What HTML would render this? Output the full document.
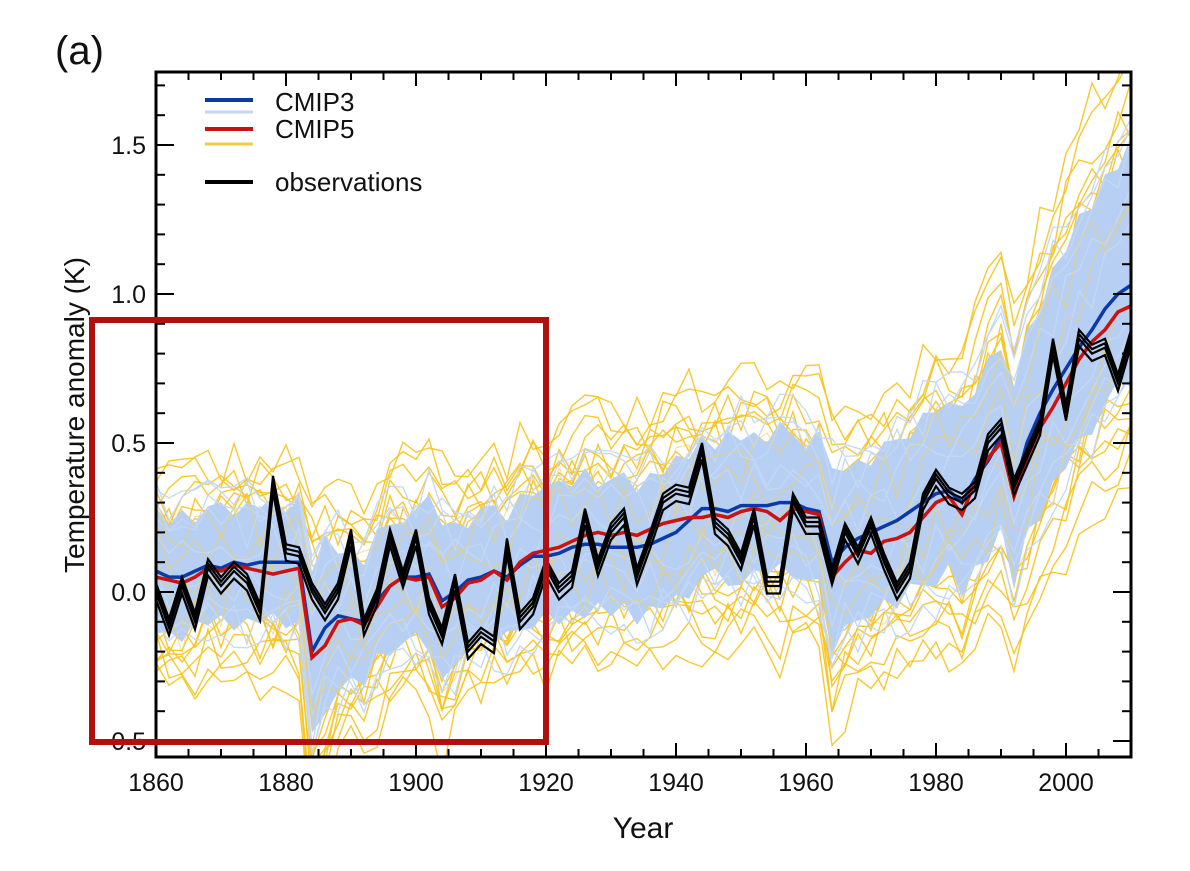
<!DOCTYPE html>
<html><head><meta charset="utf-8"><style>
body{margin:0;background:#fff;}
svg text{font-family:"Liberation Sans",sans-serif;fill:#111;}
</style></head><body>
<svg id="chart" width="1190" height="866" viewBox="0 0 1190 866" xmlns="http://www.w3.org/2000/svg">
<text x="55" y="64" font-size="40">(a)</text>
<g id="plot"></g>
<g id="axes"></g>
<text x="643" y="838" font-size="30" text-anchor="middle">Year</text>
<text transform="translate(84,415) rotate(-90)" font-size="28" text-anchor="middle">Temperature anomaly (K)</text>
<g>
<line x1="205" y1="100" x2="253" y2="100" stroke="#0a3aa8" stroke-width="4"/>
<line x1="205" y1="112" x2="253" y2="112" stroke="#c4d6f2" stroke-width="3"/>
<text x="275" y="111" font-size="26">CMIP3</text>
<line x1="205" y1="129" x2="253" y2="129" stroke="#cc1111" stroke-width="4"/>
<line x1="205" y1="144" x2="253" y2="144" stroke="#f5c842" stroke-width="3"/>
<text x="275" y="138" font-size="26">CMIP5</text>
<line x1="205" y1="182" x2="253" y2="182" stroke="#000" stroke-width="4"/>
<text x="275" y="191" font-size="26">observations</text>
</g>
<rect x="92" y="320" width="454" height="422" fill="none" stroke="#b01010" stroke-width="6"/>
</svg>
<script>
const years=[];for(let y=1860;y<=2010;y+=2)years.push(y);
const cmip5Mean=[0.05,0.04,0.03,0.05,0.08,0.07,0.09,0.08,0.07,0.06,0.07,0.08,-0.22,-0.18,-0.10,-0.09,-0.11,-0.05,0.02,0.05,0.04,0.05,-0.05,-0.02,0.03,0.04,0.07,0.04,0.10,0.13,0.14,0.15,0.17,0.19,0.20,0.19,0.20,0.19,0.21,0.23,0.24,0.25,0.25,0.26,0.25,0.27,0.28,0.27,0.24,0.28,0.27,0.26,0.05,0.10,0.14,0.13,0.17,0.18,0.20,0.25,0.30,0.32,0.26,0.37,0.45,0.50,0.32,0.45,0.55,0.62,0.70,0.78,0.84,0.88,0.94,0.96];
const cmip3Mean=[0.07,0.05,0.05,0.07,0.09,0.08,0.10,0.09,0.10,0.10,0.10,0.10,-0.20,-0.12,-0.08,-0.09,-0.10,-0.03,0.02,0.05,0.05,0.06,-0.03,0.00,0.04,0.05,0.07,0.05,0.09,0.12,0.12,0.13,0.15,0.16,0.16,0.15,0.15,0.15,0.16,0.18,0.20,0.24,0.28,0.28,0.27,0.29,0.29,0.29,0.30,0.30,0.28,0.27,0.10,0.15,0.18,0.20,0.22,0.24,0.27,0.30,0.33,0.34,0.30,0.38,0.44,0.52,0.34,0.50,0.60,0.68,0.75,0.82,0.88,0.95,1.00,1.03];
const observations=[0.00,-0.12,0.02,-0.10,0.08,0.02,0.07,0.03,-0.07,0.36,0.13,0.12,0.00,-0.07,0.00,0.18,-0.12,-0.02,0.18,0.04,0.18,-0.05,-0.15,0.03,-0.20,-0.15,-0.18,0.15,-0.10,-0.05,0.08,0.00,0.04,0.25,0.08,0.20,0.25,0.05,0.17,0.30,0.33,0.32,0.47,0.22,0.18,0.10,0.25,0.02,0.02,0.30,0.22,0.22,0.05,0.20,0.12,0.22,0.10,0.00,0.07,0.30,0.38,0.32,0.30,0.34,0.50,0.55,0.35,0.45,0.55,0.82,0.60,0.85,0.80,0.82,0.70,0.85];
const spread=[0.19,0.19,0.19,0.19,0.19,0.19,0.19,0.19,0.19,0.19,0.19,0.2,0.3,0.27,0.22,0.21,0.21,0.21,0.21,0.21,0.21,0.23,0.27,0.23,0.21,0.21,0.21,0.21,0.21,0.21,0.22,0.22,0.22,0.22,0.22,0.22,0.22,0.22,0.22,0.22,0.23,0.23,0.23,0.23,0.23,0.23,0.23,0.23,0.24,0.23,0.23,0.25,0.28,0.27,0.26,0.26,0.26,0.26,0.27,0.27,0.28,0.28,0.3,0.3,0.31,0.32,0.34,0.35,0.37,0.39,0.4,0.42,0.43,0.44,0.45,0.46];
const wiggle=[0.06,-0.04,0.09,-0.07,0.02,0.08,-0.09,0.05,-0.02,0.07,-0.06,0.03,-0.08,0.10,-0.03,0.04,-0.05,0.08,-0.01,-0.07,0.05,0.09,-0.04,0.01,-0.09,0.06,0.03,-0.06,0.08,-0.02,0.04];
const obsOffsets=[0,0.03,-0.025,0.015];
const memberFactors=[-1.7,-1.5,-1.35,-1.2,-1.05,-0.9,-0.75,-0.6,-0.45,-0.3,0.0,0.3,0.45,0.6,0.75,0.9,1.05,1.2,1.35,1.5,1.7,-1.9,1.85,1.1,-1.1];
const cmip3Factors=[-1.1,-0.9,-0.6,-0.3,0.3,0.6,0.9,1.1,1.25,-1.25];
const xTicks=[1860,1880,1900,1920,1940,1960,1980,2000];
const yTicks=[-0.5,0.0,0.5,1.0,1.5];

const L=156,R=1131,T=72,B=757;
const xs=y=>L+(y-1860)*(R-L)/150;
const ys=v=>592-v*298;
const NS='http://www.w3.org/2000/svg';
const plot=document.getElementById('plot'),axes=document.getElementById('axes');
function mk(tag,attrs,parent){const e=document.createElementNS(NS,tag);for(const k in attrs)e.setAttribute(k,attrs[k]);parent.appendChild(e);return e;}
const clip=mk('clipPath',{id:'cp'},mk('defs',{},plot));mk('rect',{x:L,y:T,width:R-L,height:B-T},clip);
const g=mk('g',{'clip-path':'url(#cp)'},plot);
function pts(f){return years.map((y,i)=>xs(y).toFixed(1)+','+ys(f(i)).toFixed(1)).join(' ');}
const sp=(m,i)=>m<0?m*Math.min(spread[i],0.3):m*spread[i];
memberFactors.forEach((m,k)=>{
  const p=mk('polyline',{points:pts(i=>cmip5Mean[i]+sp(m,i)+0.8*wiggle[(i*(k%7+2)+k)%wiggle.length]),fill:'none',stroke:'#f7c21a','stroke-width':1.4,'stroke-opacity':0.9},g);
  
  
});
const up=years.map((y,i)=>xs(y).toFixed(1)+','+ys(cmip3Mean[i]+spread[i]+wiggle[i%wiggle.length]*0.4).toFixed(1));
const lo=years.map((y,i)=>xs(y).toFixed(1)+','+ys(cmip3Mean[i]-Math.min(spread[i],0.32)-wiggle[(i+7)%wiggle.length]*0.4).toFixed(1)).reverse();
const band=mk('polygon',{points:up.concat(lo).join(' '),fill:'#b7cff2'},g);


cmip3Factors.forEach((m,k)=>{
  const p=mk('polyline',{points:pts(i=>cmip3Mean[i]+sp(m,i)+0.8*wiggle[(i*(k%5+2)+5)%wiggle.length]),fill:'none',stroke:'#c4d8f4','stroke-width':1.3},g);
  
  
});
[-0.8,0.8,-0.5,0.5,-0.2].forEach((m,k)=>{
  const p=mk('polyline',{points:pts(i=>cmip5Mean[i]+sp(m,i)+wiggle[(i*(k+5)+2)%wiggle.length]),fill:'none',stroke:'#f2cf5a','stroke-width':1.2,'stroke-opacity':0.6},g);
  
  
});
const b3=mk('polyline',{points:pts(i=>cmip3Mean[i]),fill:'none',stroke:'#0a3aa8','stroke-width':3.5},g);


const r5=mk('polyline',{points:pts(i=>cmip5Mean[i]),fill:'none',stroke:'#cc1111','stroke-width':3.5},g);


obsOffsets.forEach((o,k)=>{
  const p=mk('polyline',{points:pts(i=>observations[i]+o),fill:'none',stroke:'#000','stroke-width':2.2},g);
  
  
});
const fr=mk('rect',{x:L,y:T,width:R-L,height:B-T,fill:'none',stroke:'#000','stroke-width':3},axes);


for(let y=1860;y<=2010;y+=5){
  const len=(y%20===0)?14:8;
  mk('line',{x1:xs(y),y1:B,x2:xs(y),y2:B-len,stroke:'#000','stroke-width':2},axes);
  mk('line',{x1:xs(y),y1:T,x2:xs(y),y2:T+len,stroke:'#000','stroke-width':2},axes);
}
for(let v=-0.5;v<=1.71;v+=0.1){
  const vv=Math.round(v*10)/10;const len=(Math.abs(vv*2-Math.round(vv*2))<1e-6)?18:9;
  mk('line',{x1:L,y1:ys(vv),x2:L+len,y2:ys(vv),stroke:'#000','stroke-width':2},axes);
  mk('line',{x1:R,y1:ys(vv),x2:R-len,y2:ys(vv),stroke:'#000','stroke-width':2},axes);
}
xTicks.forEach(t=>{
  const e=mk('text',{x:xs(t),y:791,'font-size':25,'text-anchor':'middle'},axes);e.textContent=t;
  
  
});
yTicks.forEach(t=>{
  const e=mk('text',{x:146,y:ys(t)+9,'font-size':25,'text-anchor':'end'},axes);e.textContent=t.toFixed(1);
  
  
});
</script>
</body></html>
